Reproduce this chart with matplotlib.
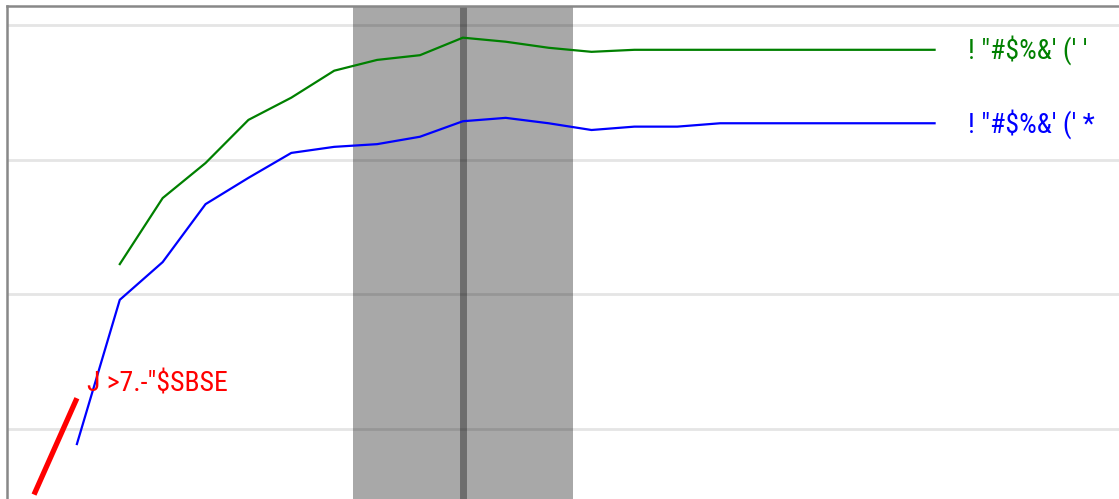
import matplotlib
matplotlib.use("Agg")
import matplotlib.pyplot as plt

# series values (index = step)
green_x = list(range(2, 22))
green_y = [44.5, 54.3, 59.5, 65.9, 69.2, 73.2, 74.8, 75.5, 78.1, 77.5,
           76.6, 76.0, 76.3, 76.3, 76.3, 76.3, 76.3, 76.3, 76.3, 76.3]
blue_x = list(range(1, 22))
blue_y = [17.8, 39.2, 44.8, 53.4, 57.3, 61.0, 61.9, 62.3, 63.4, 65.7,
          66.2, 65.4, 64.4, 64.9, 64.9, 65.4, 65.4, 65.4, 65.4, 65.4, 65.4]
red_x = [0, 1]
red_y = [10.3, 24.6]

green_label = "! \"#$%&' (' '"
blue_label = "! \"#$%&' (' *"
red_label = "J >7.-\"$SBSE"

span_lo, span_hi, span_mid = 7.44, 12.56, 10
grid_vals = [20, 40, 60, 80]

fig = plt.figure(figsize=(11.19, 4.99), dpi=100)
W, H = 1119, 499
left_px, top_px, right_px, bottom_px = 7, 6, 1149, 564
ax = fig.add_axes([left_px / W, 1 - bottom_px / H,
                   (right_px - left_px) / W, (bottom_px - top_px) / H])
ax.set_xlim(-0.63, 26)
ax.set_ylim(0, 82.8)

for g in grid_vals:
    ax.axhline(g, color="#e5e5e5", lw=2, zorder=0)

ax.axvspan(span_lo, span_hi, color="black", alpha=0.34, lw=0, zorder=1)
ax.axvline(span_mid, color="black", alpha=0.35, lw=5, zorder=1)

ax.plot(green_x, green_y, color="green", lw=1.6, zorder=3)
ax.plot(blue_x, blue_y, color="blue", lw=1.6, zorder=3)
ax.plot(red_x, red_y, color="red", lw=3.8, zorder=3, solid_capstyle="butt")

fam = ["Roboto Condensed", "DejaVu Sans"]
ax.annotate(green_label, (green_x[-1], green_y[-1]), xytext=(24, -6.5),
            textcoords="offset points", color="green", fontsize=20,
            va="baseline", family=fam)
ax.annotate(blue_label, (blue_x[-1], blue_y[-1]), xytext=(24, -6.5),
            textcoords="offset points", color="blue", fontsize=20,
            va="baseline", family=fam)
ax.annotate(red_label, (red_x[-1], red_y[-1]), xytext=(7, 5),
            textcoords="offset points", color="red", fontsize=20,
            va="baseline", family=fam)

ax.set_xticks([])
ax.set_yticks([])
for s in ["right", "bottom"]:
    ax.spines[s].set_visible(False)
for s in ["left", "top"]:
    ax.spines[s].set_color("#888888")
    ax.spines[s].set_linewidth(1.8)

fig.savefig("out.png", dpi=100)
